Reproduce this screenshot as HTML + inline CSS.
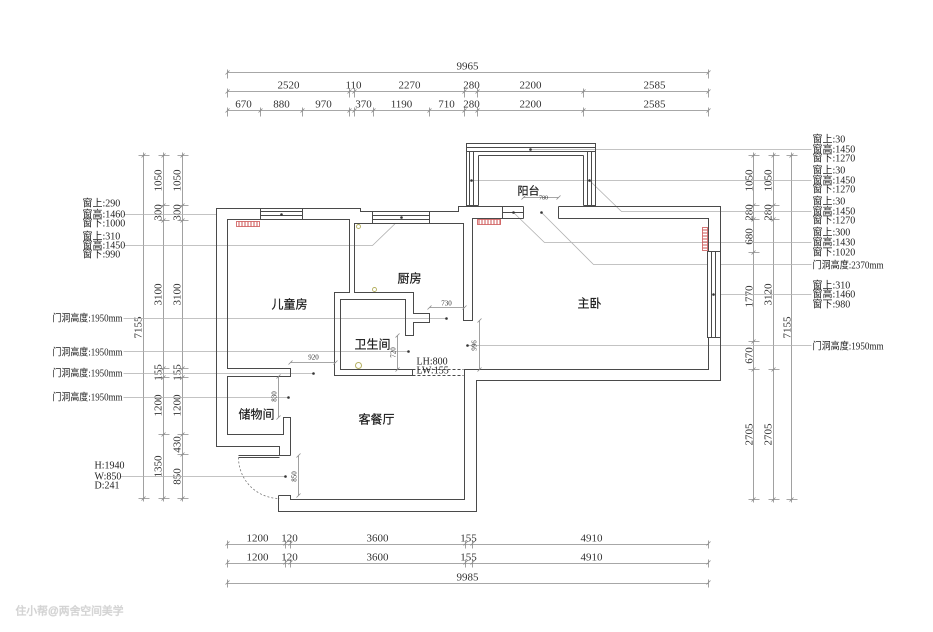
<!DOCTYPE html>
<html><head><meta charset="utf-8"><style>
html,body{margin:0;padding:0;background:#fff;}
svg{display:block;}
.w{stroke:#4a4a4a;stroke-width:1;fill:none;}
.d{stroke:#8a8a8a;stroke-width:0.8;fill:none;}
.l{stroke:#b0b0b0;stroke-width:0.8;fill:none;}
.t{font-family:"Liberation Serif","Noto Serif CJK SC",serif;font-size:11px;fill:#333;}
.a{font-family:"Liberation Serif","Noto Sans CJK SC",serif;font-size:10px;fill:#222;}
.r{font-family:"Liberation Sans","Noto Sans CJK SC",sans-serif;font-size:12px;fill:#1a1a1a;stroke:#1a1a1a;stroke-width:0.2;}
.s{font-family:"Liberation Serif","Noto Serif CJK SC",serif;font-size:7px;fill:#333;}
</style></head><body>
<svg width="933" height="632" viewBox="0 0 933 632" xmlns="http://www.w3.org/2000/svg">
<defs>
<pattern id="hv" width="3" height="6" patternUnits="userSpaceOnUse"><path d="M1.5,0V6" stroke="#c55" stroke-width="1"/></pattern>
<pattern id="hh" width="6" height="3" patternUnits="userSpaceOnUse"><path d="M0,1.5H6" stroke="#c55" stroke-width="1"/></pattern>
</defs>
<rect width="933" height="632" fill="#fff"/>
<g transform="translate(0.5,0.5)">

<!-- TOP DIMENSIONS -->
<path class="d" d="M227,72H708 M227,91H708 M227,110H708"/>
<path class="d" d="M227,69v9m-2,-4l4,-4 M708,69v9m-2,-4l4,-4
M227,88v9m-2,-4l4,-4 M349,88v9m-2,-4l4,-4 M354,88v9m-2,-4l4,-4 M464,88v9m-2,-4l4,-4 M477,88v9m-2,-4l4,-4 M583,88v9m-2,-4l4,-4 M708,88v9m-2,-4l4,-4
M227,107v9m-2,-4l4,-4 M260,107v9m-2,-4l4,-4 M302,107v9m-2,-4l4,-4 M349,107v9m-2,-4l4,-4 M354,107v9m-2,-4l4,-4 M373,107v9m-2,-4l4,-4 M429,107v9m-2,-4l4,-4 M464,107v9m-2,-4l4,-4 M477,107v9m-2,-4l4,-4 M583,107v9m-2,-4l4,-4 M708,107v9m-2,-4l4,-4"/>
<g class="t" text-anchor="middle">
<text x="467" y="69">9965</text>
<text x="288" y="88">2520</text><text x="353" y="88">110</text><text x="409" y="88">2270</text><text x="471" y="88">280</text><text x="530" y="88">2200</text><text x="654" y="88">2585</text>
<text x="243" y="107">670</text><text x="281" y="107">880</text><text x="323" y="107">970</text><text x="363" y="107">370</text><text x="401" y="107">1190</text><text x="446" y="107">710</text><text x="471" y="107">280</text><text x="530" y="107">2200</text><text x="654" y="107">2585</text>
</g>

<!-- BOTTOM DIMENSIONS -->
<path class="d" d="M227,544H708 M227,563H708 M227,583H708"/>
<path class="d" d="M227,540v8m-2,-3l4,-4 M285,540v8m-2,-3l4,-4 M290,540v8m-2,-3l4,-4 M465,540v8m-2,-3l4,-4 M472,540v8m-2,-3l4,-4 M708,540v8m-2,-3l4,-4
M227,559v8m-2,-3l4,-4 M285,559v8m-2,-3l4,-4 M290,559v8m-2,-3l4,-4 M465,559v8m-2,-3l4,-4 M472,559v8m-2,-3l4,-4 M708,559v8m-2,-3l4,-4
M227,579v8m-2,-3l4,-4 M708,579v8m-2,-3l4,-4"/>
<g class="t" text-anchor="middle">
<text x="257" y="541">1200</text><text x="289" y="541">120</text><text x="377" y="541">3600</text><text x="468" y="541">155</text><text x="591" y="541">4910</text>
<text x="257" y="560">1200</text><text x="289" y="560">120</text><text x="377" y="560">3600</text><text x="468" y="560">155</text><text x="591" y="560">4910</text>
<text x="467" y="580">9985</text>
</g>

<!-- LEFT VERTICAL DIMENSIONS -->
<path class="d" d="M143,152V501 M163,152V501 M182,152V501"/>
<path class="d" d="M138,155h11m-8,2l4,-4 M138,498h11m-8,2l4,-4
M158,155h11m-8,2l4,-4 M158,205h11m-8,2l4,-4 M158,220h11m-8,2l4,-4 M158,368h11m-8,2l4,-4 M158,377h11m-8,2l4,-4 M158,434h11m-8,2l4,-4 M158,498h11m-8,2l4,-4
M177,155h11m-8,2l4,-4 M177,205h11m-8,2l4,-4 M177,220h11m-8,2l4,-4 M177,368h11m-8,2l4,-4 M177,377h11m-8,2l4,-4 M177,434h11m-8,2l4,-4 M177,454h11m-8,2l4,-4 M177,498h11m-8,2l4,-4"/>
<g class="t" text-anchor="middle">
<text transform="translate(141,327) rotate(-90)">7155</text>
<text transform="translate(161,180) rotate(-90)">1050</text>
<text transform="translate(161,212) rotate(-90)">300</text>
<text transform="translate(161,294) rotate(-90)">3100</text>
<text transform="translate(161,372) rotate(-90)">155</text>
<text transform="translate(161,405) rotate(-90)">1200</text>
<text transform="translate(161,466) rotate(-90)">1350</text>
<text transform="translate(180,180) rotate(-90)">1050</text>
<text transform="translate(180,212) rotate(-90)">300</text>
<text transform="translate(180,294) rotate(-90)">3100</text>
<text transform="translate(180,372) rotate(-90)">155</text>
<text transform="translate(180,405) rotate(-90)">1200</text>
<text transform="translate(180,444) rotate(-90)">430</text>
<text transform="translate(180,476) rotate(-90)">850</text>
</g>

<!-- RIGHT VERTICAL DIMENSIONS -->
<path class="d" d="M753,152V502 M773,152V502 M791,152V502"/>
<path class="d" d="M748,155h11m-8,2l4,-4 M748,205h11m-8,2l4,-4 M748,219h11m-8,2l4,-4 M748,252h11m-8,2l4,-4 M748,341h11m-8,2l4,-4 M748,369h11m-8,2l4,-4 M748,499h11m-8,2l4,-4
M768,155h11m-8,2l4,-4 M768,205h11m-8,2l4,-4 M768,219h11m-8,2l4,-4 M768,369h11m-8,2l4,-4 M768,499h11m-8,2l4,-4
M786,155h11m-8,2l4,-4 M786,499h11m-8,2l4,-4"/>
<g class="t" text-anchor="middle">
<text transform="translate(752,180) rotate(-90)">1050</text>
<text transform="translate(752,212) rotate(-90)">280</text>
<text transform="translate(752,236) rotate(-90)">680</text>
<text transform="translate(752,296) rotate(-90)">1770</text>
<text transform="translate(752,355) rotate(-90)">670</text>
<text transform="translate(752,434) rotate(-90)">2705</text>
<text transform="translate(771,180) rotate(-90)">1050</text>
<text transform="translate(771,212) rotate(-90)">280</text>
<text transform="translate(771,294) rotate(-90)">3120</text>
<text transform="translate(771,434) rotate(-90)">2705</text>
<text transform="translate(790,327) rotate(-90)">7155</text>
</g>

<!-- LEADER LINES -->
<path class="l" d="M124,214H216 M124,245H372L401,217 M123,318H446 M123,351H408 M123,373H313 M123,397H288 M120,476H285
M530,149H811 M471,180H811 M589,180L621,211H811 M513,212L544,242H811 M541,212L593,264H811 M713,294H811 M467,345H811"/>

<!-- WALLS -->
<path class="w" d="M523,206H458V211H360V208H216V446H279V455 M278,495V511H476V380H720V206H558"/>
<path class="w" d="M523,206V218 M558,206V218 M279,455H290 M278,495H290V499H464V369H708V218H558"/>
<path class="w" d="M290,455V417H283V434H227V376H290V368H227V219H349V292H334V375H412V369H340V299H405V335H413V322H429V313H413V292H354V223H463V320H472V218H502"/>
<path class="w" d="M502,206V218H523 M502,212H523"/>
<path class="w" d="M412,369V375"/>
<path class="w" stroke-dasharray="3,2" d="M412,369H463 M412,375H463"/>

<!-- balcony -->
<path class="w" d="M466,206V143H595V206 M466,147H595 M466,151H595 M478,155H583 M469,151V205 M473,151V205 M478,155V205 M583,155V205 M587,151V205 M591,151V205 M466,205H478 M583,205H595"/>

<!-- windows -->
<rect x="260" y="208" width="42" height="11" fill="#fff" stroke="#4a4a4a" stroke-width="1"/>
<path class="w" d="M260,211H302 M260,215H302"/>
<rect x="372" y="211" width="57" height="12" fill="#fff" stroke="#4a4a4a" stroke-width="1"/>
<path class="w" d="M372,215H429 M372,219H429"/>
<rect x="707" y="251" width="13" height="86" fill="#fff" stroke="#4a4a4a" stroke-width="1"/>
<path class="w" d="M711,251V337 M715,251V337"/>

<!-- entry door -->
<path class="w" d="M238,455H279 M238,457H279"/>
<path d="M238,457A41,41 0 0 0 279,498" fill="none" stroke="#777" stroke-width="0.8" stroke-dasharray="2,2"/>

<!-- radiators -->
<rect x="236" y="221" width="23" height="5" fill="url(#hv)" stroke="#c55" stroke-width="0.8"/>
<rect x="477" y="219" width="23" height="5" fill="url(#hv)" stroke="#c55" stroke-width="0.8"/>
<rect x="702" y="227" width="5" height="23" fill="url(#hh)" stroke="#c55" stroke-width="0.8"/>

<!-- drains -->
<circle cx="358" cy="226" r="2" fill="none" stroke="#b5b060" stroke-width="0.9"/>
<circle cx="374" cy="289" r="2" fill="none" stroke="#b5b060" stroke-width="0.9"/>
<circle cx="358" cy="365" r="3" fill="none" stroke="#b5b060" stroke-width="1"/>

<!-- small dims -->
<path class="d" d="M523,197H558 M521,199l4,-4 M556,199l4,-4
M429,307H464 M427,309l4,-4 M462,309l4,-4
M290,362H335 M288,364l4,-4 M333,364l4,-4
M479,320V369 M477,322l4,-4 M477,371l4,-4
M397,335V369 M395,337l4,-4 M395,371l4,-4
M278,376V417 M276,378l4,-4 M276,419l4,-4
M298,455V495 M296,457l4,-4 M296,497l4,-4"/>
<g class="s" text-anchor="middle">
<text x="543" y="199" font-size="6">780</text>
<text x="446" y="305">730</text>
<text x="313" y="359">920</text>
<text transform="translate(476,345) rotate(-90)">996</text>
<text transform="translate(395,352) rotate(-90)">720</text>
<text transform="translate(276,396) rotate(-90)">830</text>
<text transform="translate(296,476) rotate(-90)">850</text>
</g>
<text x="416" y="364" class="a" font-size="9">LH:800</text>
<text x="416" y="373" class="a" font-size="9">LW:155</text>

<!-- dots -->
<g fill="#333">
<circle cx="281" cy="214" r="1.3"/><circle cx="401" cy="217" r="1.3"/><circle cx="471" cy="180" r="1.3"/>
<circle cx="530" cy="149" r="1.3"/><circle cx="589" cy="180" r="1.3"/><circle cx="513" cy="212" r="1.3"/>
<circle cx="541" cy="212" r="1.3"/><circle cx="713" cy="294" r="1.3"/><circle cx="467" cy="345" r="1.3"/>
<circle cx="446" cy="318" r="1.3"/><circle cx="408" cy="351" r="1.3"/><circle cx="313" cy="373" r="1.3"/>
<circle cx="288" cy="397" r="1.3"/><circle cx="285" cy="476" r="1.3"/>
</g>

<!-- room labels -->
<g class="r" text-anchor="middle">
<text x="289" y="308">儿童房</text>
<text x="409" y="282">厨房</text>
<text x="372" y="348">卫生间</text>
<text x="256" y="418">储物间</text>
<text x="376" y="423">客餐厅</text>
<text x="589" y="307">主卧</text>
<text x="528" y="194" font-size="11">阳台</text>
</g>

<!-- left annotations -->
<g class="a">
<text x="82" y="206">窗上:290</text>
<text x="82" y="217">窗高:1460</text>
<text x="82" y="226">窗下:1000</text>
<text x="82" y="239">窗上:310</text>
<text x="82" y="248">窗高:1450</text>
<text x="82" y="257">窗下:990</text>
<text x="52" y="321" textLength="70" lengthAdjust="spacingAndGlyphs">门洞高度:1950mm</text>
<text x="52" y="355" textLength="70" lengthAdjust="spacingAndGlyphs">门洞高度:1950mm</text>
<text x="52" y="376" textLength="70" lengthAdjust="spacingAndGlyphs">门洞高度:1950mm</text>
<text x="52" y="400" textLength="70" lengthAdjust="spacingAndGlyphs">门洞高度:1950mm</text>
<text x="94" y="468">H:1940</text>
<text x="94" y="479">W:850</text>
<text x="94" y="488">D:241</text>
</g>

<!-- right annotations -->
<g class="a">
<text x="812" y="142">窗上:30</text>
<text x="812" y="152">窗高:1450</text>
<text x="812" y="161">窗下:1270</text>
<text x="812" y="173">窗上:30</text>
<text x="812" y="183">窗高:1450</text>
<text x="812" y="192">窗下:1270</text>
<text x="812" y="204">窗上:30</text>
<text x="812" y="214">窗高:1450</text>
<text x="812" y="223">窗下:1270</text>
<text x="812" y="235">窗上:300</text>
<text x="812" y="245">窗高:1430</text>
<text x="812" y="255">窗下:1020</text>
<text x="812" y="268" textLength="71" lengthAdjust="spacingAndGlyphs">门洞高度:2370mm</text>
<text x="812" y="288">窗上:310</text>
<text x="812" y="297">窗高:1460</text>
<text x="812" y="307">窗下:980</text>
<text x="812" y="349" textLength="71" lengthAdjust="spacingAndGlyphs">门洞高度:1950mm</text>
</g>

<!-- watermark -->
<text x="15" y="614" font-family="Liberation Sans, Noto Sans CJK SC, sans-serif" font-size="11" fill="#c8c8c8" stroke="#d8d8d8" stroke-width="0.6" textLength="108" lengthAdjust="spacingAndGlyphs">住小帮@两舍空间美学</text>

</g>
</svg>
</body></html>
